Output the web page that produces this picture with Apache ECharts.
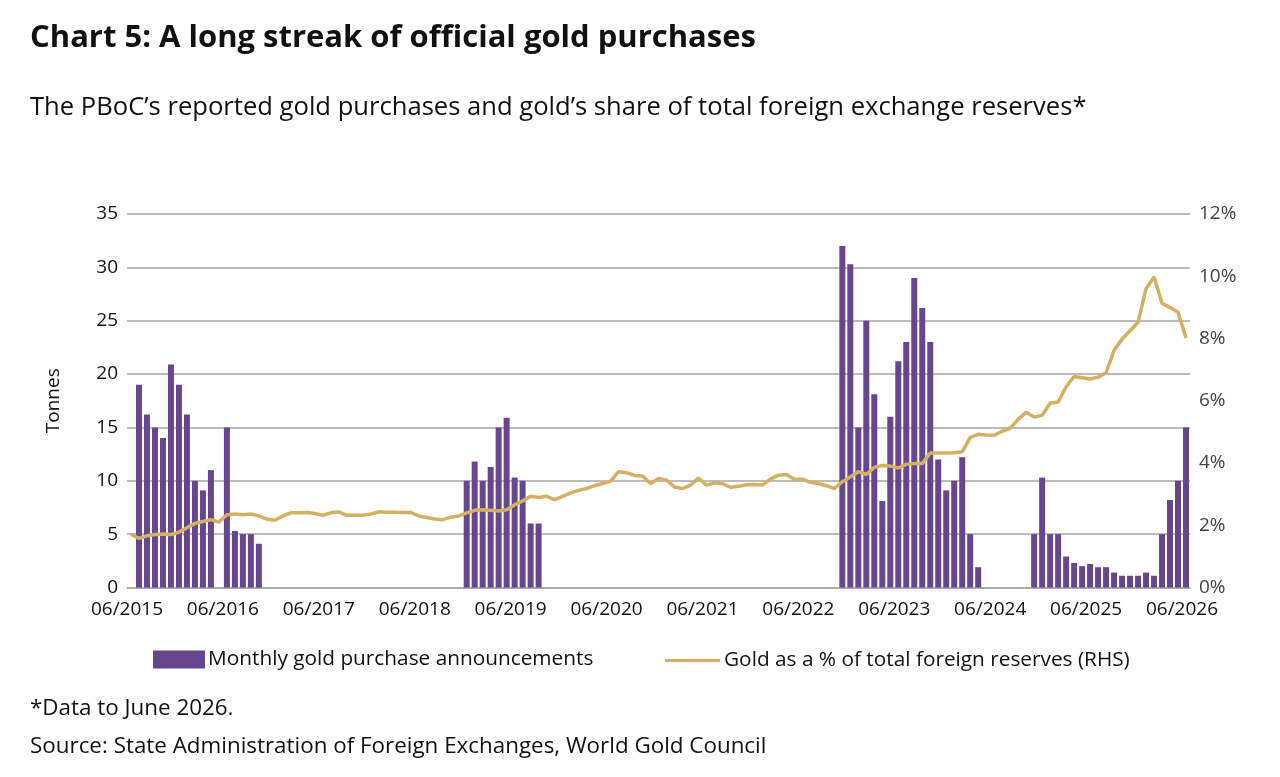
<!DOCTYPE html>
<html>
<head>
<meta charset="utf-8">
<title>Chart 5</title>
<script src="https://cdn.jsdelivr.net/npm/echarts@6.0.0/dist/echarts.min.js"></script>
<style>
    html, body {margin: 0; padding: 0; background: #fff;}
    #chart {width: 1280px; height: 777px;}
</style>
</head>
<body>
<div id="chart"></div>
<script>
//月份 06/2015 - 06/2026
var months = [];
for (var y = 2015; y <= 2026; y++) {
    for (var m = 1; m <= 12; m++) {
        if ((y == 2015 && m < 6) || (y == 2026 && m > 6)) continue;
        months.push((m < 10 ? '0' + m : '' + m) + '/' + y);
    }
}

//每月公布的购金量（吨），null 为无购买
var purchases = [
    null, 19, 16.2, 15, 14, 20.9, 19, 16.2, 10, 9.1, 11, null,
    15, 5.3, 5, 5, 4.1, null, null, null, null, null, null, null,
    null, null, null, null, null, null, null, null, null, null, null, null,
    null, null, null, null, null, null, 10, 11.8, 10, 11.3, 15, 15.9,
    10.3, 10, 6, 6, null, null, null, null, null, null, null, null,
    null, null, null, null, null, null, null, null, null, null, null, null,
    null, null, null, null, null, null, null, null, null, null, null, null,
    null, null, null, null, null, 32, 30.3, 15, 25, 18.1, 8.1, 16,
    21.2, 23, 29, 26.2, 23, 12, 9.1, 10, 12.2, 5, 1.9, null,
    null, null, null, null, null, 5, 10.3, 5, 5, 2.9, 2.3, 2.0,
    2.2, 1.9, 1.9, 1.4, 1.1, 1.1, 1.1, 1.4, 1.1, 5, 8.2, 10,
    15
];

//黄金占外汇储备比例（%）
var goldShare = [
    1.71, 1.58, 1.66, 1.70, 1.72, 1.70, 1.78, 1.92, 2.06, 2.12, 2.18, 2.10,
    2.34, 2.36, 2.34, 2.36, 2.30, 2.20, 2.16, 2.30, 2.40, 2.40, 2.41, 2.38,
    2.32, 2.40, 2.43, 2.32, 2.32, 2.32, 2.36, 2.43, 2.42, 2.42, 2.41, 2.41,
    2.30, 2.25, 2.20, 2.18, 2.26, 2.30, 2.40, 2.48, 2.50, 2.48, 2.46, 2.50,
    2.66, 2.78, 2.93, 2.89, 2.93, 2.82, 2.93, 3.04, 3.12, 3.18, 3.27, 3.34,
    3.41, 3.72, 3.69, 3.60, 3.58, 3.34, 3.50, 3.45, 3.23, 3.18, 3.29, 3.52,
    3.29, 3.36, 3.34, 3.22, 3.25, 3.30, 3.31, 3.29, 3.48, 3.61, 3.63, 3.48,
    3.48, 3.38, 3.34, 3.27, 3.18, 3.40, 3.55, 3.72, 3.63, 3.86, 3.92, 3.90,
    3.84, 3.96, 3.98, 3.98, 4.32, 4.32, 4.32, 4.33, 4.36, 4.82, 4.92, 4.90,
    4.89, 5.02, 5.12, 5.40, 5.63, 5.48, 5.53, 5.92, 5.96, 6.45, 6.78, 6.74,
    6.70, 6.76, 6.90, 7.62, 7.98, 8.25, 8.52, 9.60, 9.98, 9.13, 9.00, 8.84,
    8.02
];

var barName = 'Monthly gold purchase announcements';
var lineName = 'Gold as a % of total foreign reserves (RHS)';
var font = '"Open Sans", "Noto Sans", sans-serif';

var myChart = echarts.init(document.getElementById('chart'));
myChart.setOption({
    animation: false,
    backgroundColor: '#fff',
    textStyle: {fontFamily: font},
    title: [{
        text: 'Chart 5: A long streak of official gold purchases',
        left: 30, top: 23, padding: 0,
        textStyle: {fontSize: 31, fontWeight: 'bold', color: '#111', fontFamily: font}
    }, {
        text: 'The PBoC’s reported gold purchases and gold’s share of total foreign exchange reserves*',
        left: 30, top: 95, padding: 0,
        textStyle: {fontSize: 25.6, fontWeight: 'normal', color: '#111', fontFamily: font}
    }, {
        text: '*Data to June 2026.',
        left: 30, top: 698, padding: 0,
        textStyle: {fontSize: 22.4, fontWeight: 'normal', color: '#111', fontFamily: font}
    }, {
        text: 'Source: State Administration of Foreign Exchanges, World Gold Council',
        left: 30, top: 736, padding: 0,
        textStyle: {fontSize: 22.4, fontWeight: 'normal', color: '#111', fontFamily: font}
    }],
    legend: [{
        left: 153, top: 649, padding: 0,
        data: [barName],
        icon: 'rect',
        itemWidth: 52, itemHeight: 18,
        textStyle: {fontSize: 20.8, color: '#111', padding: [0, 0, 0, -2]}
    }, {
        //折线图例只画一条线
        left: 665, top: 650, padding: 0,
        data: [lineName],
        icon: 'rect',
        itemWidth: 55, itemHeight: 3,
        textStyle: {fontSize: 20.8, color: '#111', padding: [0, 0, 0, -1]}
    }],
    grid: {left: 127, right: 90, top: 214, bottom: 189.5},
    xAxis: {
        type: 'category',
        data: months,
        boundaryGap: true,
        axisLine: {lineStyle: {color: '#a6a6a6', width: 1.5}},
        axisTick: {interval: 11, length: 6, lineStyle: {color: '#a6a6a6', width: 1.5}},
        //标签放在刻度线上（而不是格子中间）
        axisLabel: {interval: 11, fontSize: 19, color: '#111', margin: 13, padding: [0, 8, 0, 0]},
        splitLine: {show: false}
    },
    yAxis: [{
        type: 'value',
        min: 0, max: 35, interval: 5,
        name: 'Tonnes',
        nameLocation: 'middle',
        nameGap: 64,
        nameTextStyle: {fontSize: 19, color: '#111'},
        axisLine: {show: false},
        axisTick: {show: false},
        axisLabel: {fontSize: 19, color: '#111', margin: 9},
        splitLine: {lineStyle: {color: '#a6a6a6', width: 1.5}}
    }, {
        type: 'value',
        min: 0, max: 12, interval: 2,
        position: 'right',
        axisLine: {show: false},
        axisTick: {show: false},
        axisLabel: {fontSize: 19, color: '#444', margin: 9, formatter: '{value}%'},
        splitLine: {show: false}
    }],
    series: [{
        name: barName,
        type: 'bar',
        data: purchases,
        barCategoryGap: '25%',
        itemStyle: {color: '#66478e'}
    }, {
        name: lineName,
        type: 'line',
        yAxisIndex: 1,
        data: goldShare,
        symbol: 'none',
        lineStyle: {color: '#d4b064', width: 3.5},
        itemStyle: {color: '#d4b064'}
    }]
});
</script>
</body>
</html>
